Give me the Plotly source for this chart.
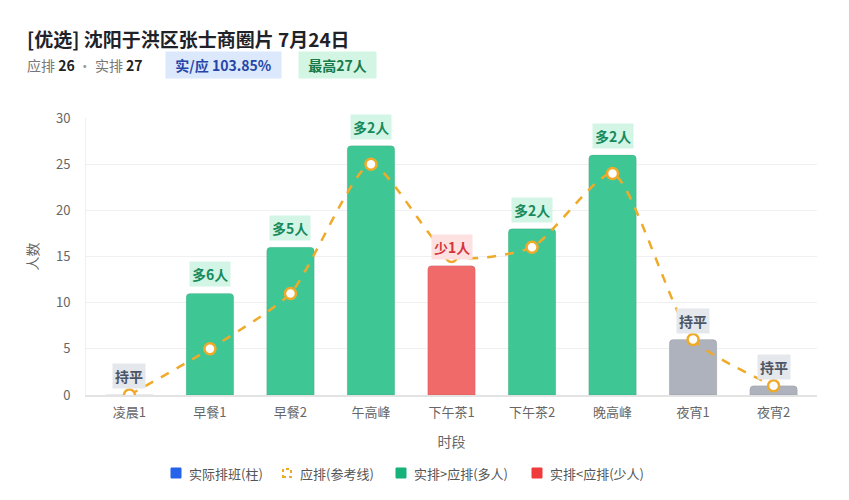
import plotly.graph_objects as go

# 时段数据
slots = ["凌晨1", "早餐1", "早餐2", "午高峰", "下午茶1", "下午茶2", "晚高峰", "夜宵1", "夜宵2"]
actual = [0, 11, 16, 27, 14, 18, 26, 6, 1]
planned = [0, 5, 11, 25, 15, 16, 24, 6, 1]

title_text = "[优选] 沈阳于洪区张士商圈片 7月24日"
plan_peak = 26
actual_peak = 27
ratio_text = "实/应 103.85%"
max_text = "最高27人"

legend_names = ["实际排班(柱)", "应排(参考线)", "实排>应排(多人)", "实排<应排(少人)"]
legend_colors = ["#2563eb", "#f0aa2a", "#16b27a", "#ef3b3b"]

GREEN = "#3ec795"
RED = "#f06a6a"
GRAY = "#adb2bd"
ORANGE = "#f0aa2a"
FONT = "Noto Sans CJK SC"

# 绘图区像素尺寸, 用来换算纸面坐标
PW, PH = 731, 277


def px(x):
    return (x - 78) / PW


def py(y):
    return (387 - y) / PH


colors = []
tags = []
for a, p in zip(actual, planned):
    d = a - p
    if d > 0:
        colors.append(GREEN)
        tags.append(("多%d人" % d, "#d3f5e5", "#168a5c"))
    elif d < 0:
        colors.append(RED)
        tags.append(("少%d人" % -d, "#fde1e1", "#d4343c"))
    else:
        colors.append(GRAY)
        tags.append(("持平", "#e4e7ec", "#4b5563"))

fig = go.Figure()

fig.add_trace(go.Bar(
    x=slots, y=actual,
    marker=dict(color=colors, cornerradius=4, line=dict(color="rgba(0,0,0,0.08)", width=1)),
    showlegend=False, hoverinfo="x+y",
))

fig.add_trace(go.Scatter(
    x=slots, y=planned, mode="lines+markers",
    line=dict(color=ORANGE, width=2.5, dash="dash", shape="spline", smoothing=0.6),
    marker=dict(size=11, color="white", line=dict(color=ORANGE, width=2.5)),
    showlegend=False,
))

# 柱子上的标签
for s, a, (t, bg, fc) in zip(slots, actual, tags):
    fig.add_annotation(
        x=s, y=a, text="<b>%s</b>" % t, showarrow=False,
        yanchor="bottom", yshift=6,
        font=dict(size=14, color=fc, family=FONT),
        bgcolor=bg, borderpad=2,
    )

# 标题和副标题
fig.add_annotation(
    xref="paper", yref="paper", x=px(17), y=py(31), xanchor="left", yanchor="middle",
    text="<b>%s</b>" % title_text, showarrow=False,
    font=dict(size=19, color="#1f2329", family=FONT),
)
fig.add_annotation(
    xref="paper", yref="paper", x=px(17), y=py(57), xanchor="left", yanchor="middle",
    text="<span style='color:#777'>应排</span> <b>%d</b> <span style='color:#999'>·</span> "
         "<span style='color:#777'>实排</span> <b>%d</b>" % (plan_peak, actual_peak),
    showarrow=False, font=dict(size=14, color="#222", family=FONT),
)
fig.add_annotation(
    xref="paper", yref="paper", x=px(157), y=py(57), xanchor="left", yanchor="middle",
    text="&nbsp;&nbsp;<b>%s</b>&nbsp;&nbsp;" % ratio_text, showarrow=False,
    font=dict(size=14, color="#2546a8", family=FONT),
    bgcolor="#dce8fb", borderpad=3,
)
fig.add_annotation(
    xref="paper", yref="paper", x=px(290), y=py(57), xanchor="left", yanchor="middle",
    text="&nbsp;&nbsp;<b>%s</b>&nbsp;&nbsp;" % max_text, showarrow=False,
    font=dict(size=14, color="#167a4a", family=FONT),
    bgcolor="#d3f5e3", borderpad=3,
)

# 手工图例
leg_x = [163, 274, 388, 524]
leg_y = 465
for i, (name, c) in enumerate(zip(legend_names, legend_colors)):
    x0 = leg_x[i]
    if i == 1:
        fig.add_shape(type="rect", xref="paper", yref="paper",
                      x0=px(x0 + 1), x1=px(x0 + 9), y0=py(leg_y + 4), y1=py(leg_y - 4),
                      line=dict(color=c, width=2, dash="dot"), fillcolor="white")
    else:
        fig.add_shape(type="rect", xref="paper", yref="paper",
                      x0=px(x0), x1=px(x0 + 10), y0=py(leg_y + 5), y1=py(leg_y - 5),
                      line=dict(color=c, width=1), fillcolor=c)
    fig.add_annotation(
        xref="paper", yref="paper", x=px(x0 + 16), y=py(leg_y), xanchor="left", yanchor="middle",
        text=name, showarrow=False, font=dict(size=13, color="#555", family=FONT),
    )

fig.update_layout(
    width=841, height=492,
    margin=dict(l=78, r=32, t=110, b=105),
    paper_bgcolor="white", plot_bgcolor="white",
    font=dict(family=FONT, size=13, color="#666"),
    bargap=0.41,
    showlegend=False,
    xaxis=dict(
        title=dict(text="时段", font=dict(size=14, color="#666"), standoff=17),
        showline=True, linecolor="#e3e3e3", linewidth=1.5, ticks="",
        ticklabelstandoff=5,
        tickfont=dict(size=13, color="#666"),
    ),
    yaxis=dict(
        title=dict(text="人数", font=dict(size=14, color="#666"), standoff=14),
        range=[0, 30], dtick=5, gridcolor="#f0f0f0", zeroline=False,
        showline=True, linecolor="#f0f0f0",
        ticklabelstandoff=12,
        tickfont=dict(size=13, color="#666"),
    ),
)

fig.write_html("out.html")
